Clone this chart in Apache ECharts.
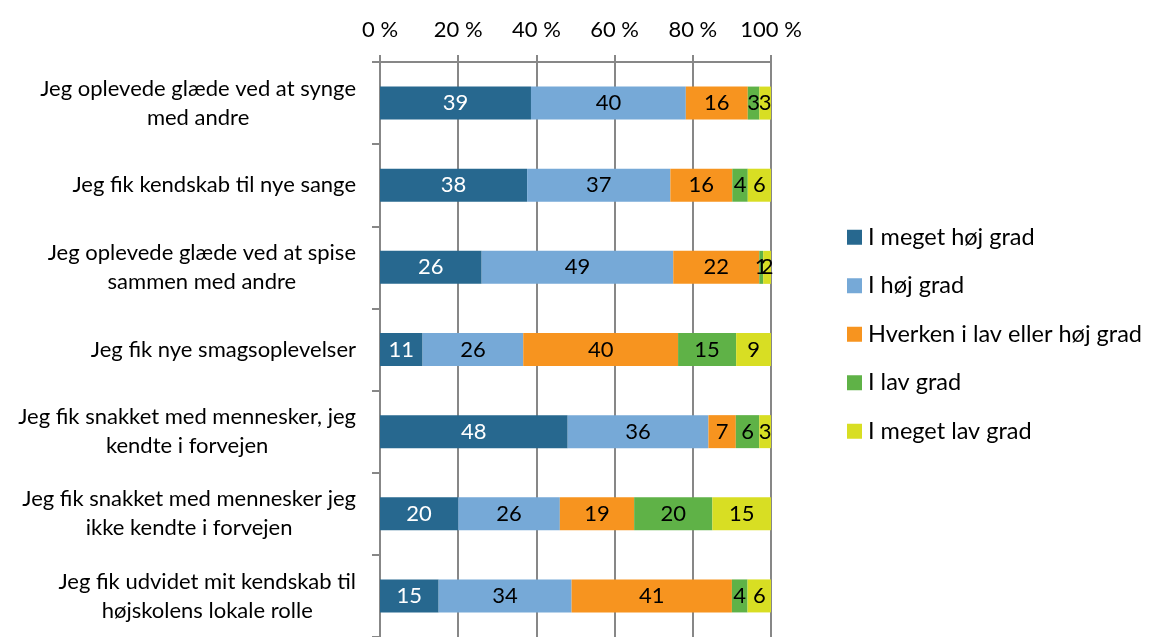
<!DOCTYPE html>
<html>
<head>
    <meta charset="utf-8">
    <title>Højskole – oplevelser</title>
    <style>
        html, body { margin: 0; padding: 0; background: #fff; }
        #chart { width: 1159px; height: 637px; }
    </style>
</head>
<body>
    <div id="chart"></div>
    <script src="https://cdn.jsdelivr.net/npm/echarts@6/dist/echarts.min.js"></script>
    <script>
        // udsagn (øverst først)
        var categories = [
            'Jeg oplevede glæde ved at synge\nmed andre',
            'Jeg fik kendskab til nye sange',
            'Jeg oplevede glæde ved at spise\nsammen med andre',
            'Jeg fik nye smagsoplevelser',
            'Jeg fik snakket med mennesker, jeg\nkendte i forvejen',
            'Jeg fik snakket med mennesker jeg\nikke kendte i forvejen',
            'Jeg fik udvidet mit kendskab til\nhøjskolens lokale rolle'
        ];
        var seriesNames = ['I meget høj grad', 'I høj grad', 'Hverken i lav eller høj grad', 'I lav grad', 'I meget lav grad'];
        var meget_hoej = [39, 38, 26, 11, 48, 20, 15];
        var hoej       = [40, 37, 49, 26, 36, 26, 34];
        var hverken    = [16, 16, 22, 40, 7, 19, 41];
        var lav        = [3, 4, 1, 15, 6, 20, 4];
        var meget_lav  = [3, 6, 2, 9, 3, 15, 6];
        var xTicks = [0, 20, 40, 60, 80, 100];

        var colors = ['#27688F', '#76A9D7', '#F7941F', '#5FB247', '#D8DE23'];
        var labelColors = ['#fff', '#000', '#000', '#000', '#000'];
        var allData = [meget_hoej, hoej, hverken, lav, meget_lav];
        var font = 'Lato, "Open Sans", sans-serif';

        // 100 % stablet: hver række normaliseres til sin sum
        var rowSums = categories.map(function (c, i) {
            return allData.reduce(function (s, arr) { return s + arr[i]; }, 0);
        });

        var series = allData.map(function (arr, k) {
            return {
                name: seriesNames[k],
                type: 'bar',
                stack: 'total',
                barWidth: 33,
                itemStyle: { color: colors[k] },
                label: {
                    show: true,
                    position: 'inside',
                    color: labelColors[k],
                    fontFamily: font,
                    fontSize: 22,
                    formatter: function (p) { return arr[p.dataIndex]; }
                },
                data: arr.map(function (v, i) { return v / rowSums[i] * 100; })
            };
        });

        var chart = echarts.init(document.getElementById('chart'));
        chart.setOption({
            animation: false,
            textStyle: { fontFamily: font },
            grid: { left: 380, top: 62, width: 391, height: 579, containLabel: false },
            legend: {
                orient: 'vertical',
                left: 847,
                top: 225,
                padding: 0,
                itemWidth: 15,
                itemHeight: 15,
                itemGap: 24,
                icon: 'rect',
                textStyle: { fontSize: 23.5, lineHeight: 24.5, color: '#000', fontFamily: font, padding: [0, 0, 0, 1] },
                data: seriesNames
            },
            xAxis: {
                type: 'value',
                position: 'top',
                min: 0,
                max: 100,
                interval: 20,
                axisLine: { show: true, lineStyle: { color: '#878787', width: 2 } },
                axisTick: { show: true, inside: false, length: 7, lineStyle: { color: '#878787', width: 2 } },
                splitLine: { show: true, lineStyle: { color: '#878787', width: 2 } },
                axisLabel: {
                    color: '#000',
                    fontSize: 22,
                    margin: 21,
                    formatter: function (v) { return xTicks.indexOf(v) >= 0 ? v + ' %' : ''; }
                }
            },
            yAxis: {
                type: 'category',
                inverse: true,
                data: categories,
                axisLine: { show: true, lineStyle: { color: '#878787', width: 2 } },
                axisTick: { show: true, length: 8, lineStyle: { color: '#878787', width: 2 } },
                axisLabel: {
                    color: '#000',
                    margin: 24,
                    fontSize: 22,
                    lineHeight: 29,
                    formatter: function (v) {
                        return v.split('\n').map(function (s) { return '{c|' + s + '}'; }).join('\n');
                    },
                    rich: { c: { align: 'center', fontSize: 22, lineHeight: 29, color: '#000', fontFamily: font } }
                }
            },
            series: series
        });
    </script>
</body>
</html>
